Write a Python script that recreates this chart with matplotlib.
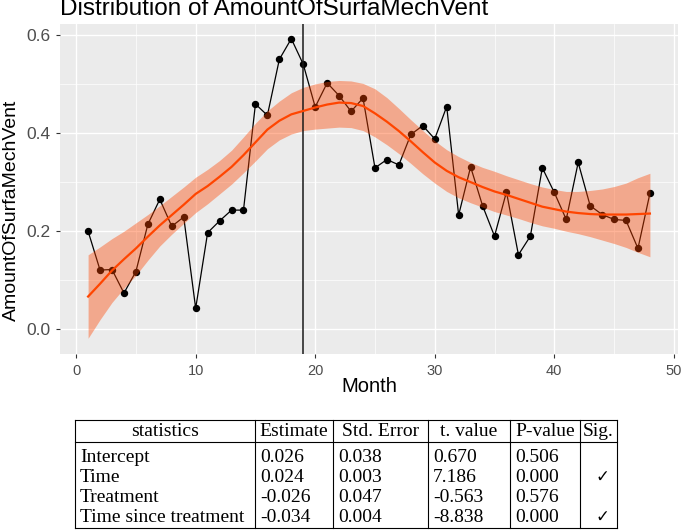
import matplotlib
matplotlib.use("Agg")
import matplotlib.pyplot as plt
from matplotlib.ticker import MultipleLocator

plt.rcParams['font.family'] = ['Liberation Sans', 'DejaVu Sans']

# observed monthly values
month = list(range(1, 49))
amount = [0.200, 0.121, 0.122, 0.074, 0.118, 0.214, 0.265, 0.210, 0.229, 0.043,
          0.197, 0.221, 0.243, 0.243, 0.459, 0.436, 0.550, 0.592, 0.540, 0.453,
          0.502, 0.476, 0.444, 0.471, 0.329, 0.346, 0.335, 0.397, 0.415, 0.388,
          0.454, 0.233, 0.331, 0.252, 0.190, 0.280, 0.152, 0.190, 0.329, 0.279,
          0.224, 0.340, 0.252, 0.234, 0.224, 0.222, 0.165, 0.277]

# loess fit and its confidence band at each month
fit_y = [0.067, 0.093, 0.120, 0.143, 0.165, 0.189, 0.212, 0.233, 0.254, 0.276,
         0.292, 0.311, 0.331, 0.355, 0.381, 0.407, 0.425, 0.438, 0.445, 0.452,
         0.458, 0.462, 0.461, 0.455, 0.440, 0.423, 0.404, 0.383, 0.361, 0.340,
         0.323, 0.310, 0.300, 0.290, 0.281, 0.274, 0.266, 0.258, 0.250, 0.245,
         0.240, 0.237, 0.235, 0.234, 0.234, 0.234, 0.235, 0.236]
fit_hi = [0.152, 0.168, 0.185, 0.200, 0.217, 0.234, 0.252, 0.271, 0.290, 0.310,
          0.326, 0.344, 0.365, 0.392, 0.420, 0.445, 0.465, 0.482, 0.493, 0.500,
          0.505, 0.507, 0.506, 0.501, 0.490, 0.472, 0.450, 0.427, 0.405, 0.384,
          0.366, 0.352, 0.340, 0.330, 0.322, 0.313, 0.305, 0.297, 0.290, 0.285,
          0.281, 0.281, 0.283, 0.286, 0.291, 0.298, 0.309, 0.318]
fit_lo = [-0.018, 0.020, 0.055, 0.084, 0.110, 0.141, 0.170, 0.194, 0.216, 0.238,
          0.256, 0.276, 0.296, 0.319, 0.343, 0.368, 0.386, 0.398, 0.405, 0.408,
          0.410, 0.412, 0.411, 0.405, 0.392, 0.376, 0.358, 0.338, 0.317, 0.298,
          0.281, 0.268, 0.258, 0.249, 0.240, 0.233, 0.226, 0.218, 0.211, 0.206,
          0.200, 0.195, 0.189, 0.182, 0.175, 0.167, 0.157, 0.148]
treatment_month = 19

# regression table
header = ['statistics', 'Estimate', 'Std. Error', 't. value', 'P-value', 'Sig.']
terms = ['Intercept', 'Time', 'Treatment', 'Time since treatment']
estimate = ['0.026', '0.024', '-0.026', '-0.034']
std_error = ['0.038', '0.003', '0.047', '0.004']
t_value = ['0.670', '7.186', '-0.563', '-8.838']
p_value = ['0.506', '0.000', '0.576', '0.000']
sig = ['', '\u2713', '', '\u2713']

W, H = 685, 530
fig = plt.figure(figsize=(W / 100, H / 100), dpi=100)
ax = fig.add_axes([60 / W, 1 - 354 / H, 618 / W, 330 / H])
ax.set_facecolor('#EBEBEB')

ax.plot(month, amount, color='black', lw=0.9, zorder=3)
ax.plot(month, amount, 'o', color='black', ms=4.3, zorder=3)
ax.fill_between(month, fit_lo, fit_hi, color='#FF4500', alpha=0.4, lw=0, zorder=4)
ax.axvline(treatment_month, color='#1a1a1a', lw=1.1, zorder=5)
ax.plot(month, fit_y, color='#FF4500', lw=1.6, zorder=6)

ax.set_xlim(-1.35, 50.35)
ax.set_ylim(-0.050, 0.622)
ax.xaxis.set_major_locator(MultipleLocator(10))
ax.xaxis.set_minor_locator(MultipleLocator(5))
ax.yaxis.set_minor_locator(MultipleLocator(0.1))
ax.set_yticks([0.0, 0.2, 0.4, 0.6])
ax.set_yticklabels(['0.0', '0.2', '0.4', '0.6'])
ax.grid(which='major', color='white', lw=1.0)
ax.grid(which='minor', color='white', lw=0.5)
ax.set_axisbelow(True)
for s in ax.spines.values():
    s.set_visible(False)
ax.tick_params(which='minor', length=0)
ax.tick_params(which='major', length=3, width=0.8, color='#333333', labelcolor='#4D4D4D')
ax.tick_params(axis='x', labelsize=10.5, pad=4)
ax.tick_params(axis='y', labelsize=12.5, pad=4)

fig.text(60 / W, 1 - 15 / H, 'Distribution of AmountOfSurfaMechVent', fontsize=17.5,
         ha='left', va='baseline', color='black')
fig.text(369 / W, 1 - 386 / H, 'Month', fontsize=14.5, ha='center', va='center')
fig.text(11 / W, 1 - 210 / H, 'AmountOfSurfaMechVent', fontsize=14, rotation=90,
         ha='center', va='center')

# table drawn in pixel coordinates
tb = fig.add_axes([0, 0, 1, 1])
tb.set_xlim(0, W)
tb.set_ylim(H, 0)
tb.axis('off')
tb.patch.set_alpha(0)
cols = [75, 255, 333, 428, 510, 580, 617]
top, mid, bot = 420, 442, 528
for x in cols:
    tb.plot([x, x], [top, bot], color='black', lw=0.8)
for y in (top, mid, bot):
    tb.plot([cols[0], cols[-1]], [y, y], color='black', lw=0.8)
for i, h in enumerate(header):
    tb.text((cols[i] + cols[i + 1]) / 2, 431, h, ha='center', va='center',
            fontsize=14, family=['Liberation Serif', 'DejaVu Sans'])
row_y = [457, 477, 497, 517]
columns = [terms, estimate, std_error, t_value, p_value]
for j, y in enumerate(row_y):
    for i, col in enumerate(columns):
        tb.text(cols[i] + 5, y, col[j], ha='left', va='center', fontsize=14,
                family=['Liberation Serif', 'DejaVu Sans'])
    tb.text((cols[5] + cols[6]) / 2 + 4, y, sig[j], ha='center', va='center',
            fontsize=12, family=['DejaVu Sans'])

fig.savefig('out.png', dpi=100)
